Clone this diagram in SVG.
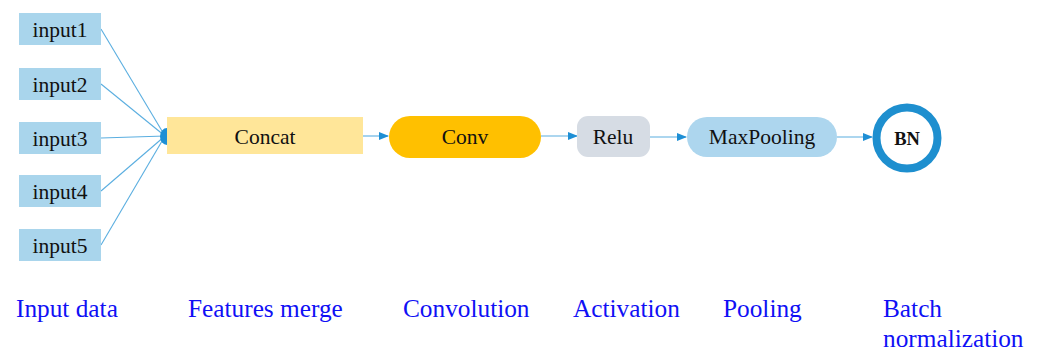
<svg xmlns="http://www.w3.org/2000/svg" width="1040" height="352" viewBox="0 0 1040 352">
<style>
.t{font-family:"Liberation Serif",Tinos,"Times New Roman",Times,"DejaVu Serif",serif;font-size:21.5px;fill:#111;text-anchor:middle}
.lab{font-family:"Liberation Serif",Tinos,"Times New Roman",Times,"DejaVu Serif",serif;font-size:25.3px;fill:#1010F5}
.bn{font-family:"Liberation Serif",Tinos,"Times New Roman",Times,"DejaVu Serif",serif;font-size:18.5px;font-weight:bold;fill:#111;text-anchor:middle}
.in{fill:#A9D5EC}
.ln{stroke:#5AAEE0;stroke-width:1.1;fill:none}
</style>
<defs>
<marker id="ah" markerWidth="10" markerHeight="8" refX="9" refY="4" orient="auto" markerUnits="userSpaceOnUse">
<path d="M0,0 L10,4 L0,8 Z" fill="#1E8FD5"/>
</marker>
</defs>
<rect width="1040" height="352" fill="#fff"/>
<g id="connectors">
<line class="ln" x1="101" y1="29" x2="165" y2="136"/>
<line class="ln" x1="101" y1="84" x2="165" y2="136"/>
<line class="ln" x1="101" y1="138" x2="165" y2="136"/>
<line class="ln" x1="101" y1="191" x2="165" y2="136"/>
<line class="ln" x1="101" y1="245" x2="165" y2="136"/>
<path d="M167,128 A7,8.5 0 0 0 167,145 Z" fill="#1E8FD5"/>
<line class="ln" x1="363" y1="136" x2="388" y2="136" marker-end="url(#ah)"/>
<line class="ln" x1="541" y1="136" x2="577" y2="136" marker-end="url(#ah)"/>
<line class="ln" x1="650" y1="137" x2="686" y2="137" marker-end="url(#ah)"/>
<line class="ln" x1="837" y1="137" x2="872" y2="137" marker-end="url(#ah)"/>
</g>
<g id="input1"><rect class="in" x="19" y="13" width="82" height="32"/><text class="t" x="60" y="37">input1</text></g>
<g id="input2"><rect class="in" x="19" y="68" width="82" height="32"/><text class="t" x="60" y="92">input2</text></g>
<g id="input3"><rect class="in" x="19" y="122" width="82" height="32"/><text class="t" x="60" y="146">input3</text></g>
<g id="input4"><rect class="in" x="19" y="175" width="82" height="32"/><text class="t" x="60" y="199">input4</text></g>
<g id="input5"><rect class="in" x="19" y="229" width="82" height="32"/><text class="t" x="60" y="253">input5</text></g>
<g id="concat"><rect x="167" y="117" width="196" height="37" fill="#FFE699"/><text class="t" x="265" y="144">Concat</text></g>
<g id="conv"><rect x="389" y="116" width="152" height="42" rx="21" fill="#FFC000"/><text class="t" x="465" y="144">Conv</text></g>
<g id="relu"><rect x="577" y="116" width="73" height="41" rx="11" fill="#D6DCE4"/><text class="t" x="613" y="144">Relu</text></g>
<g id="maxpooling"><rect x="687" y="117" width="150" height="40" rx="20" fill="#ADD6EE"/><text class="t" x="762" y="144">MaxPooling</text></g>
<g id="bn"><circle cx="907" cy="138" r="30.5" fill="#fff" stroke="#1E8FCF" stroke-width="8"/><text class="bn" x="907" y="145">BN</text></g>
<g id="labels">
<text class="lab" x="16" y="317">Input data</text>
<text class="lab" x="188" y="317">Features merge</text>
<text class="lab" x="403" y="317">Convolution</text>
<text class="lab" x="573" y="317">Activation</text>
<text class="lab" x="723" y="317">Pooling</text>
<text class="lab" x="883" y="317">Batch</text>
<text class="lab" x="883" y="347">normalization</text>
</g>
</svg>
